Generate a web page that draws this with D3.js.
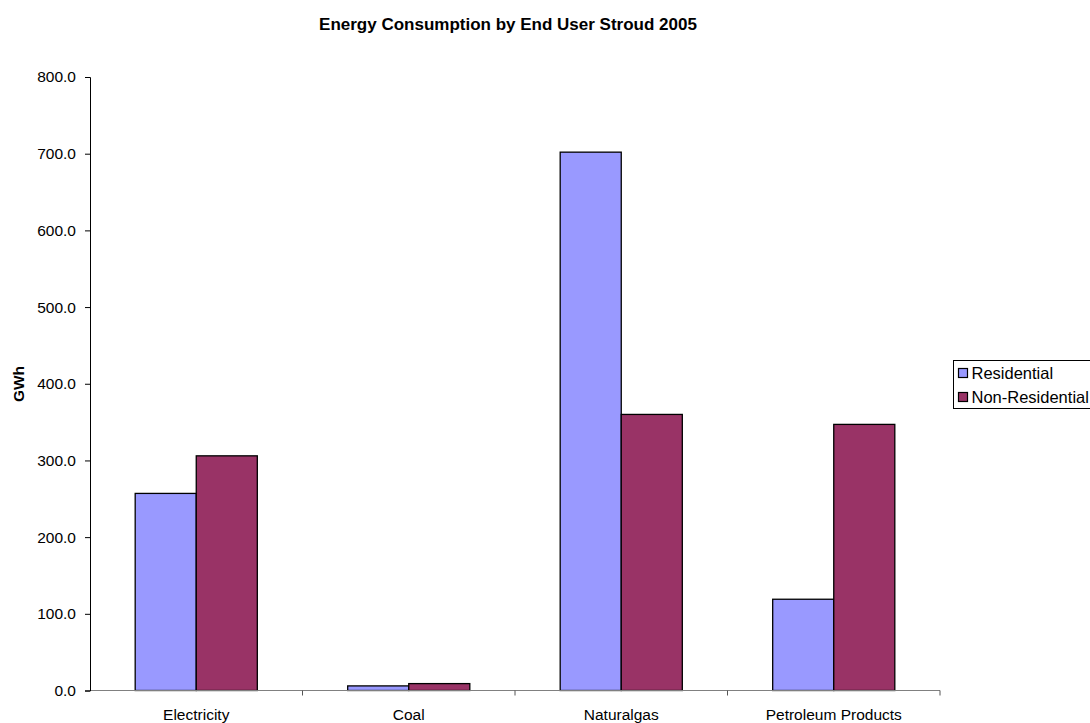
<!DOCTYPE html>
<html>
<head>
<meta charset="utf-8">
<script src="https://cdn.jsdelivr.net/npm/d3@7"></script>
<style>
	body { margin: 0; background: #fff; }
	svg { display: block; font-family: "Liberation Sans", Arial, sans-serif; }
</style>
</head>
<body>
<div id="chart"></div>
<script>
// data
var categories = ["Electricity", "Coal", "Naturalgas", "Petroleum Products"];
var seriesNames = ["Residential", "Non-Residential"];
var residential = [257, 6, 702, 119];
var nonResidential = [306, 9, 360, 347];
var yTicks = [0, 100, 200, 300, 400, 500, 600, 700, 800];
var colours = ["#9999FF", "#993366"];

var width = 1090, height = 723;
var plot = {left: 90, right: 940, top: 77, bottom: 690.5};

var svg = d3.select("#chart").append("svg")
	.attr("width", width)
	.attr("height", height);

var x = d3.scaleBand()
	.domain(categories)
	.range([plot.left, plot.right])
	.padding(0);

// two bars side by side fill ~57% of each category slot
var x1 = d3.scaleBand()
	.domain(seriesNames)
	.range([0, x.bandwidth()])
	.paddingOuter(0.74)
	.paddingInner(0);

var y = d3.scaleLinear()
	.domain([0, 800])
	.range([plot.bottom, plot.top]);

var rows = categories.map(function(c, i) {
	return {cat: c, values: [residential[i], nonResidential[i]]};
});

// bars
var groups = svg.append("g").selectAll("g")
	.data(rows)
	.enter().append("g")
	.attr("transform", function(d) { return "translate(" + x(d.cat) + ",0)"; });

groups.selectAll("rect")
	.data(function(d) { return d.values.map(function(v, j) { return {name: seriesNames[j], v: v, j: j}; }); })
	.enter().append("rect")
	.attr("x", function(d) { return x1(d.name); })
	.attr("y", function(d) { return y(d.v); })
	.attr("width", x1.bandwidth())
	.attr("height", function(d) { return plot.bottom - y(d.v); })
	.attr("fill", function(d) { return colours[d.j]; })
	.attr("stroke", "#000")
	.attr("stroke-width", 1.3);

// x axis (grey line, ticks between categories)
var xAxisG = svg.append("g");
xAxisG.append("line")
	.attr("x1", plot.left).attr("x2", plot.right)
	.attr("y1", plot.bottom).attr("y2", plot.bottom)
	.attr("stroke", "#808080").attr("stroke-width", 1);
var bounds = categories.map(function(c) { return x(c); }).concat([plot.right]);
xAxisG.selectAll("line.tick")
	.data(bounds.slice(1))
	.enter().append("line")
	.attr("class", "tick")
	.attr("x1", function(d) { return d; }).attr("x2", function(d) { return d; })
	.attr("y1", plot.bottom).attr("y2", plot.bottom + 5)
	.attr("stroke", "#555");
xAxisG.selectAll("text")
	.data(categories)
	.enter().append("text")
	.attr("x", function(d) { return x(d) + x.bandwidth() / 2; })
	.attr("y", 720)
	.attr("text-anchor", "middle")
	.attr("font-size", 15.5)
	.attr("fill", "#000")
	.text(function(d) { return d; });

// y axis
var yAxis = d3.axisLeft(y)
	.tickValues(yTicks)
	.tickSize(5)
	.tickPadding(9)
	.tickFormat(d3.format(".1f"));

var yAxisG = svg.append("g")
	.attr("transform", "translate(" + plot.left + ",0)")
	.call(yAxis);
yAxisG.select(".domain").attr("stroke", "#000");
yAxisG.selectAll(".tick line").attr("stroke", "#000");
yAxisG.selectAll(".tick text")
	.attr("font-size", 15.5)
	.attr("font-family", "Liberation Sans, Arial, sans-serif")
	.attr("fill", "#000");

svg.append("text")
	.attr("transform", "translate(24,384) rotate(-90)")
	.attr("text-anchor", "middle")
	.attr("font-size", 15.5)
	.attr("font-weight", "bold")
	.text("GWh");

// title
svg.append("text")
	.attr("x", 508)
	.attr("y", 30)
	.attr("text-anchor", "middle")
	.attr("font-size", 17)
	.attr("font-weight", "bold")
	.text("Energy Consumption by End User Stroud 2005");

// legend
var legend = svg.append("g").attr("transform", "translate(953.5,360.5)");
legend.append("rect")
	.attr("width", 140).attr("height", 48)
	.attr("fill", "#fff").attr("stroke", "#000").attr("stroke-width", 1);
var items = legend.selectAll("g.item")
	.data(seriesNames)
	.enter().append("g")
	.attr("class", "item")
	.attr("transform", function(d, i) { return "translate(5," + (8 + i * 24) + ")"; });
items.append("rect")
	.attr("width", 9).attr("height", 9)
	.attr("fill", function(d, i) { return colours[i]; })
	.attr("stroke", "#000").attr("stroke-width", 1.2);
items.append("text")
	.attr("x", 13).attr("y", 10)
	.attr("font-size", 16.5)
	.text(function(d) { return d; });
</script>
</body>
</html>
